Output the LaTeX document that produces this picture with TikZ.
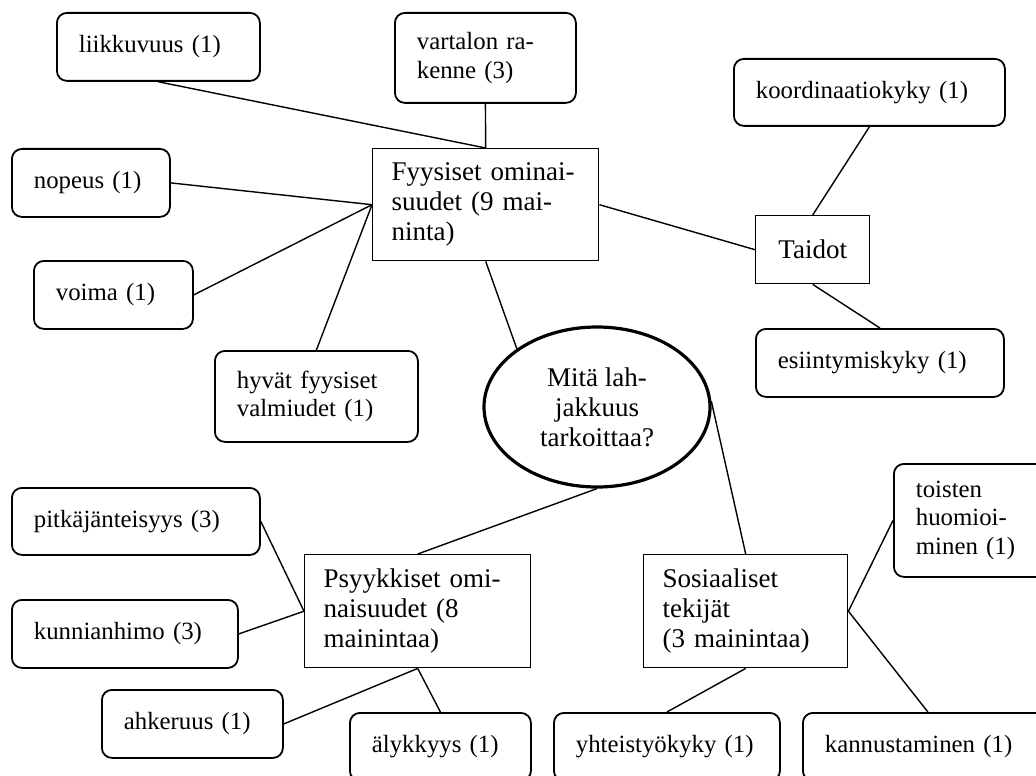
\documentclass[tikz,border=0pt]{standalone}
\usepackage{fontspec}
\setmainfont{Liberation Serif}
\usepackage{tikz}
\usetikzlibrary{shapes.geometric, positioning}

\begin{document}
\begin{tikzpicture}[x=0.5pt, y=-0.5pt,
	laatikko/.style={draw, rounded corners=5pt, line width=0.9pt, anchor=north west, align=left, inner xsep=11pt, inner ysep=3pt, font=\fontsize{12.4}{14.2}\selectfont},
	ryhma/.style={draw, line width=0.7pt, anchor=north west, align=left, inner xsep=9.5pt, inner ysep=3pt, font=\fontsize{13.5}{15}\selectfont},
	viiva/.style={line width=0.7pt}]
\useasboundingbox (0,0) rectangle (1036,775);
\clip (0,0) rectangle (1036,775);

% keskus
\node[ellipse, draw, line width=1.6pt, minimum width=113pt, minimum height=80pt, align=center, inner sep=1pt, font=\fontsize{13.5}{15}\selectfont] (mita) at (597,407) {Mitä lah-\\jakkuus\\tarkoittaa?};

% ryhmat
\node[ryhma, text width=94pt, minimum height=56pt] (fyys) at (372,148) {Fyysiset ominai-\\suudet (9 mai-\\ninta)};
\node[ryhma, align=center, text width=38pt, minimum height=34pt] (taidot) at (755,215) {Taidot};
\node[ryhma, text width=94pt, minimum height=56.5pt] (psyyk) at (304,554) {Psyykkiset omi-\\naisuudet (8\\mainintaa)};
\node[ryhma, text width=83pt, minimum height=56.5pt] (sos) at (643,554) {Sosiaaliset\\tekijät\\(3 mainintaa)};

% fyysiset
\node[laatikko, text width=79.5pt, minimum height=34pt] (liik) at (56,12) {liikkuvuus (1)};
\node[laatikko, text width=68.5pt, minimum height=45pt] (vart) at (394,12) {vartalon ra-\\kenne (3)};
\node[laatikko, text width=57pt, minimum height=34pt] (nopeus) at (11,148) {nopeus (1)};
\node[laatikko, text width=57.5pt, minimum height=34pt] (voima) at (33,260) {voima (1)};
\node[laatikko, text width=79.5pt, minimum height=45.5pt] (hyvat) at (214,350) {hyvät fyysiset\\valmiudet (1)};

% taidot
\node[laatikko, text width=113.5pt, minimum height=33.5pt] (koord) at (733,58) {koordinaatiokyky (1)};
\node[laatikko, text width=102pt, minimum height=34pt] (esiint) at (755,328) {esiintymiskyky (1)};

% psyykkiset
\node[laatikko, text width=102pt, minimum height=33.5pt] (pitka) at (11,487) {pitkäjänteisyys (3)};
\node[laatikko, text width=91pt, minimum height=34pt] (kunnia) at (11,599) {kunnianhimo (3)};
\node[laatikko, text width=68.5pt, minimum height=34pt] (ahk) at (101,689) {ahkeruus (1)};
\node[laatikko, text width=68.5pt, minimum height=34pt] (aly) at (349,712) {älykkyys (1)};

% sosiaaliset
\node[laatikko, text width=58pt, minimum height=56.5pt] (toisten) at (893,463) {toisten\\huomioi-\\minen (1)};
\node[laatikko, text width=91pt, minimum height=34pt] (yht) at (553,712) {yhteistyökyky (1)};
\node[laatikko, text width=103pt, minimum height=34pt] (kann) at (802,712) {kannustaminen (1)};

\draw[viiva] (liik.south) -- (fyys.north);
\draw[viiva] (vart.south) -- (fyys.north);
\foreach \n/\a in {nopeus/east, voima/east, hyvat/north}
	\draw[viiva] (\n.\a) -- (fyys.west);
\draw[viiva] (fyys.south) -- (mita.144);
\draw[viiva] (fyys.east) -- (taidot.west);
\draw[viiva] (taidot.north) -- (koord.south);
\draw[viiva] (taidot.south) -- (esiint.north);

\draw[viiva] (mita.south) -- (psyyk.north);
\draw[viiva] (mita.3) -- (sos.north);

\foreach \n in {pitka, kunnia}
	\draw[viiva] (\n.east) -- (psyyk.west);
\draw[viiva] (psyyk.south) -- (ahk.east);
\draw[viiva] (psyyk.south) -- (aly.north);

\draw[viiva] (sos.south) -- (yht.north);
\draw[viiva] (sos.east) -- (toisten.west);
\draw[viiva] (sos.east) -- (kann.north);

\end{tikzpicture}
\end{document}
